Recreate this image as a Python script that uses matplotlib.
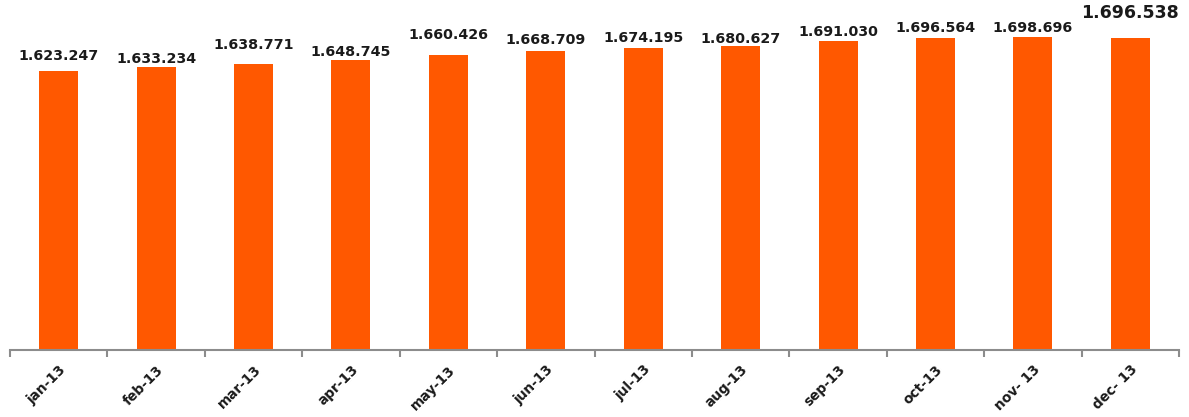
import matplotlib.pyplot as plt
import numpy as np
from matplotlib.ticker import FixedLocator

# monthly values
months = ['jan-13', 'feb-13', 'mar-13', 'apr-13', 'may-13', 'jun-13',
          'jul-13', 'aug-13', 'sep-13', 'oct-13', 'nov- 13', 'dec- 13']
values = [1623247, 1633234, 1638771, 1648745, 1660426, 1668709,
          1674195, 1680627, 1691030, 1696564, 1698696, 1696538]
labels = ['1.623.247', '1.633.234', '1.638.771', '1.648.745', '1.660.426', '1.668.709',
          '1.674.195', '1.680.627', '1.691.030', '1.696.564', '1.698.696', '1.696.538']

# gap between bar top and label (pixels)
label_gap = [8, 1, 12, 1, 13, 4, 3, 0, 2, 3, 2, 16]

fig = plt.figure(figsize=(11.89, 4.17), dpi=100)
ax = fig.add_axes([10 / 1189, 67 / 417, 1169 / 1189, 340 / 417])

x = np.arange(len(months))
ax.bar(x, values, width=0.4, color='#ff5800')

ax.set_xlim(-0.5, len(months) - 0.5)
ax.set_ylim(1000000, 1760000)

for i, (v, lab) in enumerate(zip(values, labels)):
    last = i == len(values) - 1
    ax.annotate(lab, (x[i], v), xytext=(0, label_gap[i] * 0.72), textcoords='offset points',
                ha='center', va='bottom', fontsize=12.5 if last else 10.3,
                fontweight='bold', color='#1a1a1a')

for s in ['top', 'left', 'right']:
    ax.spines[s].set_visible(False)
ax.spines['bottom'].set_color('#8c8c8c')
ax.spines['bottom'].set_linewidth(1.5)
ax.set_yticks([])

ax.set_xticks(x)
ax.set_xticklabels(months, rotation=45, ha='right', rotation_mode='anchor',
                   fontsize=9.8, fontweight='bold', color='#1a1a1a')
ax.tick_params(axis='x', which='major', length=0, pad=9)
ax.xaxis.set_minor_locator(FixedLocator(np.arange(-0.5, len(months), 1.0)))
ax.tick_params(axis='x', which='minor', length=5, width=1.5, color='#8c8c8c')

fig.savefig('out.png', dpi=100)
